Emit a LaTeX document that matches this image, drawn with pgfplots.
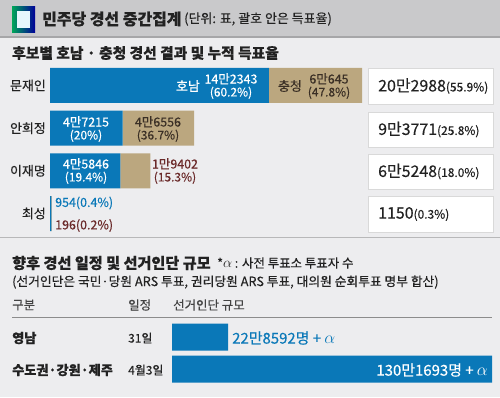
\documentclass[border=0pt]{standalone}
\usepackage{pgfplots}
\pgfplotsset{compat=1.18}
\usepackage{fontspec}
\setmainfont{Noto Sans CJK KR}[FakeBold=0.35]
\definecolor{bg}{HTML}{EDEDEF}
\definecolor{hdr}{HTML}{C9C9CB}
\definecolor{hdrline}{HTML}{A6A6A8}
\definecolor{blu}{HTML}{0A78B8}
\definecolor{tanc}{HTML}{BBA77F}
\definecolor{brn}{HTML}{6B2A2A}
\definecolor{txt}{HTML}{222222}
\definecolor{dk}{HTML}{3A2F25}
\newcommand{\fs}[1]{\fontsize{#1}{#1}\selectfont}
\newcommand{\al}{{\fontsize{19}{19}\selectfont$\alpha$}}
\begin{document}
\begin{tikzpicture}[x=1bp,y=1bp]
\useasboundingbox (0,0) rectangle (500,397);
% backgrounds
\fill[bg] (0,0) rectangle (500,397);
\fill[hdr] (0,{397-36}) rectangle (500,397);
\fill[hdrline] (0,{397-38}) rectangle (500,{397-36});
\fill[hdrline!80] (0,{397-238}) rectangle (500,{397-236.5});
% icon
\shade[left color=teal!70!green, right color=blue!60!black] (12,{397-7}) rectangle (35,{397-32});
\fill[white!90!cyan] (17,{397-11}) rectangle (30,{397-28});
% header text
\node[anchor=west,inner sep=0,text=txt] at (42,{397-19}) {\fs{16}\bfseries 민주당 경선 중간집계};
\node[anchor=west,inner sep=0,text=txt] at (184,{397-19}) {\fs{13}(단위: 표, 괄호 안은 득표율)};
% section 1 title
\node[anchor=west,inner sep=0,text=txt] at (12,{397-53}) {\fs{14.8}\bfseries 후보별 호남 · 충청 경선 결과 및 누적 득표율};
% right boxes
\foreach \a/\b in {68/104,112/147,154/189,196/232}{
  \filldraw[fill=white,draw=black!15] (368,{397-\a}) rectangle (493,{397-\b});
}
\node[anchor=west,inner sep=0,text=txt] at (378,{397-86}) {\fs{16}20만2988\fs{12}(55.9\%)};
\node[anchor=west,inner sep=0,text=txt] at (378,{397-129.5}) {\fs{16}9만3771\fs{12}(25.8\%)};
\node[anchor=west,inner sep=0,text=txt] at (378,{397-171.5}) {\fs{16}6만5248\fs{12}(18.0\%)};
\node[anchor=west,inner sep=0,text=txt] at (378,{397-214}) {\fs{16}1150\fs{12}(0.3\%)};
% top bars
\begin{axis}[at={(50bp,162.17bp)}, anchor=south west, scale only axis,
  width=312bp, height=170.67bp, xbar stacked, bar width=35bp,
  xmin=0, xmax=202988, ymin=-0.5, ymax=3.5, y dir=reverse, enlargelimits=false,
  axis line style={draw=none}, xtick=\empty, ytick={0,1,2,3},
  yticklabels={문재인,안희정,이재명,최성}, major tick length=0pt,
  yticklabel style={font=\fs{13}, text=txt, inner sep=0pt, anchor=east, xshift=-4bp},
  clip=false]
\addplot[fill=blu, draw=none] coordinates {(142343,0) (47215,1) (45846,2) (954,3)};
\addplot[fill=tanc, draw=none] coordinates {(60645,0) (46556,1) (19402,2) (196,3)};
\end{axis}
% bar labels
\node[inner sep=0,text=white] at (188,{397-86}) {\fs{13}호남};
\node[inner sep=0,text=white,align=center] at (231,{397-86}) {\fs{12.5}14만2343\\[1bp]\fs{12}(60.2\%)};
\node[inner sep=0,text=dk] at (290,{397-86}) {\fs{13}충청};
\node[inner sep=0,text=dk,align=center] at (329,{397-86}) {\fs{12.5}6만645\\[1bp]\fs{12}(47.8\%)};
\node[inner sep=0,text=white,align=center] at (86,{397-129}) {\fs{12.5}4만7215\\[1bp]\fs{12}(20\%)};
\node[inner sep=0,text=dk,align=center] at (158,{397-129}) {\fs{12.5}4만6556\\[1bp]\fs{12}(36.7\%)};
\node[inner sep=0,text=white,align=center] at (86,{397-171}) {\fs{12.5}4만5846\\[1bp]\fs{12}(19.4\%)};
\node[inner sep=0,text=brn,align=center] at (175,{397-171}) {\fs{12.5}1만9402\\[1bp]\fs{12}(15.3\%)};
\node[anchor=west,inner sep=0,text=blu] at (55,{397-203}) {\fs{12.5}954(0.4\%)};
\node[anchor=west,inner sep=0,text=brn] at (55,{397-225.5}) {\fs{12.5}196(0.2\%)};
% section 2
\node[anchor=west,inner sep=0,text=txt] at (12,{397-263}) {\fs{15.2}\bfseries 향후 경선 일정 및 선거인단 규모};
\node[anchor=west,inner sep=0,text=txt] at (217,{397-263}) {\fs{12.5}*{\fs{15}$\alpha$} : 사전 투표소 투표자 수};
\node[anchor=west,inner sep=0,text=txt] at (12,{397-282}) {\fs{12.8}(선거인단은 국민·당원 ARS 투표, 권리당원 ARS 투표, 대의원 순회투표 명부 합산)};
\node[anchor=west,inner sep=0,text=txt!85] at (12,{397-305}) {\fs{12.5}구분};
\node[anchor=west,inner sep=0,text=txt!85] at (128,{397-305}) {\fs{12.5}일정};
\node[anchor=west,inner sep=0,text=txt!85] at (173,{397-305}) {\fs{12.5}선거인단 규모};
\draw[black!45, line width=1bp] (12,{397-317}) -- (492,{397-317});
\node[anchor=west,inner sep=0,text=txt] at (12,{397-338}) {\fs{13.2}\bfseries 영남};
\node[anchor=west,inner sep=0,text=txt] at (128,{397-338}) {\fs{12}31일};
\node[anchor=west,inner sep=0,text=txt] at (12,{397-370}) {\fs{13.2}\bfseries 수도권·강원·제주};
\node[anchor=west,inner sep=0,text=txt] at (128,{397-370}) {\fs{12}4월3일};
\begin{axis}[at={(172bp,12bp)}, anchor=south west, scale only axis,
  width=320bp, height=64bp, xbar, bar width=27bp,
  xmin=0, xmax=1301693, ymin=-0.5, ymax=1.5, y dir=reverse, enlargelimits=false,
  axis line style={draw=none}, xtick=\empty, ytick=\empty, clip=false]
\addplot[fill=blu, draw=none] coordinates {(228592,0) (1301693,1)};
\end{axis}
\node[anchor=west,inner sep=0,text=blu] at (232,{397-338}) {\fs{15}22만8592명 + \al};
\node[anchor=east,inner sep=0,text=white] at (488,{397-370}) {\fs{15}130만1693명 + \al};
\end{tikzpicture}
\end{document}
